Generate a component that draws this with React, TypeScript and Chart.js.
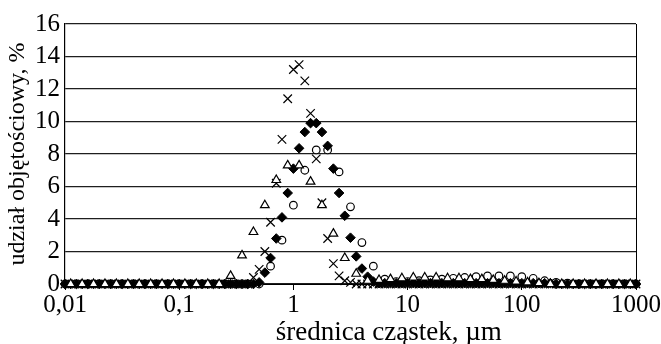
import React, { useEffect, useRef } from "react";
import { Chart, registerables } from "chart.js";

Chart.register(...registerables);

// 20 bins per decade (0.01 .. 1000 µm)
const mantissas = [1, 1.122, 1.259, 1.413, 1.585, 1.778, 1.995, 2.239, 2.512, 2.818, 3.162, 3.548, 3.981, 4.467, 5.012, 5.623, 6.31, 7.079, 7.943, 8.913];
const decades = [0.01, 0.1, 1, 10, 100];
const lastSize = 1000;

const xTickValues = [0.01, 0.1, 1, 10, 100, 1000];
const xTickLabels = ["0,01", "0,1", "1", "10", "100", "1000"];

// series on the fine grid (101 bins)
const crossValues = [
  0, 0, 0, 0, 0, 0, 0, 0, 0, 0, 0, 0, 0, 0, 0, 0, 0, 0, 0, 0,
  0, 0, 0, 0, 0, 0, 0, 0, 0, 0, 0, 0, 0, 0.4, 0.9, 2.0, 3.8, 6.2, 8.9, 11.4,
  13.2, 13.5, 12.5, 10.5, 7.7, 5.0, 2.8, 1.25, 0.5, 0.2, 0.1, 0, 0, 0, 0, 0, 0, 0, 0, 0,
  0, 0, 0, 0, 0, 0, 0, 0, 0, 0, 0, 0, 0, 0, 0, 0, 0, 0, 0, 0,
  0, 0, 0, 0, 0, 0, 0, 0, 0, 0, 0, 0, 0, 0, 0, 0, 0, 0, 0, 0,
  0,
];
const diamondValues = [
  0, 0, 0, 0, 0, 0, 0, 0, 0, 0, 0, 0, 0, 0, 0, 0, 0, 0, 0, 0,
  0, 0, 0, 0, 0, 0, 0, 0, 0, 0, 0, 0, 0, 0, 0.1, 0.7, 1.6, 2.8, 4.1, 5.6,
  7.1, 8.35, 9.35, 9.9, 9.9, 9.35, 8.5, 7.1, 5.6, 4.2, 2.85, 1.7, 0.95, 0.45, 0.15, 0.05, 0.05, 0.05, 0.05, 0.05,
  0.05, 0.05, 0.05, 0.05, 0.05, 0.05, 0.05, 0.05, 0.05, 0.05, 0.05, 0.05, 0.05, 0.05, 0.05, 0.05, 0.05, 0.05, 0.05, 0.05,
  0.05, 0.05, 0.05, 0.05, 0.05, 0.05, 0, 0, 0, 0, 0, 0, 0, 0, 0, 0, 0, 0, 0, 0,
  0,
];
// series on the even bins (51)
const circleValues = [
  0, 0, 0, 0, 0, 0, 0, 0, 0, 0, 0, 0, 0, 0, 0, 0, 0, 0,
  1.1, 2.7, 4.85, 7.0, 8.25, 8.25, 6.9, 4.75, 2.55, 1.1, 0.3, 0.15, 0.15, 0.2, 0.25,
  0.3, 0.35, 0.4, 0.45, 0.5, 0.5, 0.5, 0.45, 0.35, 0.2, 0.1, 0.05,
  0, 0, 0, 0, 0, 0,
];
// series on the odd bins (50)
const triangleValues = [
  0, 0, 0, 0, 0, 0, 0, 0, 0, 0, 0, 0, 0, 0,
  0.5, 1.76, 3.2, 4.85, 6.4, 7.3, 7.3, 6.3, 4.85, 3.1, 1.6, 0.63, 0.2, 0.25,
  0.3, 0.35, 0.4, 0.4, 0.4, 0.35, 0.35, 0.3, 0.3, 0.25, 0.2, 0.15, 0.1, 0.05,
  0, 0, 0, 0, 0, 0, 0, 0,
];

const yTitle = "udział objętościowy, %";
const xTitle = "średnica cząstek, µm";

const FONT = "'Liberation Serif', 'Times New Roman', serif";

export default function App() {
  const ref = useRef<HTMLCanvasElement | null>(null);

  useEffect(() => {
    document.body.style.margin = "0";
    const fineSizes = [...decades.flatMap((d) => mantissas.map((m) => d * m)), lastSize];
    const evenSizes = fineSizes.filter((_, i) => i % 2 === 0);
    const oddSizes = fineSizes.filter((_, i) => i % 2 === 1);
    const pts = (xs: number[], ys: number[]) => ys.map((y, i) => ({ x: xs[i], y }));

    const framePlugin = {
      id: "frameAndTitle",
      afterDraw(chart: any) {
        const { ctx, chartArea } = chart;
        ctx.save();
        ctx.strokeStyle = "#000";
        ctx.lineWidth = 1;
        ctx.beginPath();
        ctx.moveTo(Math.round(chartArea.right) + 0.5, chartArea.top);
        ctx.lineTo(Math.round(chartArea.right) + 0.5, chartArea.bottom);
        ctx.stroke();
        // x axis title, placed like the original (right of centre)
        ctx.fillStyle = "#000";
        ctx.font = `27px ${FONT}`;
        ctx.textAlign = "center";
        ctx.textBaseline = "alphabetic";
        ctx.fillText(xTitle, chartArea.left + (chartArea.right - chartArea.left) * 0.567, 340);
        ctx.restore();
      },
    };

    const common = { clip: false as any, borderColor: "#000" };

    const chart = new Chart(ref.current!, {
      type: "scatter",
      data: {
        datasets: [
          {
            ...common,
            label: "triangle",
            data: pts(oddSizes, triangleValues),
            pointStyle: "triangle",
            pointRadius: 5,
            backgroundColor: "#fff",
            pointBorderWidth: 1.2,
          },
          {
            ...common,
            label: "diamond",
            data: pts(fineSizes, diamondValues),
            pointStyle: "rectRot",
            pointRadius: 4.8,
            backgroundColor: "#000",
            pointBorderWidth: 1,
          },
          {
            ...common,
            label: "circle",
            data: pts(evenSizes, circleValues),
            pointStyle: "circle",
            pointRadius: 3.8,
            backgroundColor: "#fff",
            pointBorderWidth: 1.2,
          },
          {
            ...common,
            label: "x",
            data: pts(fineSizes, crossValues),
            pointStyle: "crossRot",
            pointRadius: 6,
            backgroundColor: "#000",
            pointBorderWidth: 1.2,
          },
        ],
      },
      options: {
        animation: false,
        responsive: false,
        events: [],
        layout: { padding: { top: 24, right: 22, left: 0, bottom: 0 } },
        plugins: { legend: { display: false }, tooltip: { enabled: false } },
        scales: {
          x: {
            type: "logarithmic",
            min: 0.01,
            max: 1000,
            afterBuildTicks: (scale: any) => {
              scale.ticks = xTickValues.map((v) => ({ value: v }));
            },
            afterFit: (scale: any) => {
              scale.height = 60;
            },
            ticks: {
              autoSkip: false,
              maxRotation: 0,
              color: "#000",
              font: { family: FONT, size: 25 },
              padding: 0,
              callback: (v: any) => {
                const i = xTickValues.indexOf(Number(v));
                return i >= 0 ? xTickLabels[i] : "";
              },
            },
            grid: { drawOnChartArea: false, drawTicks: true, tickLength: 6, color: "#000" },
            border: { color: "#000", width: 1 },
            title: { display: false },
          },
          y: {
            min: 0,
            max: 16,
            afterFit: (scale: any) => {
              scale.width = 65;
            },
            ticks: {
              stepSize: 2,
              autoSkip: false,
              color: "#000",
              font: { family: FONT, size: 25 },
              padding: 5,
            },
            grid: { color: "#1e1e1e", lineWidth: 1.2, drawTicks: false },
            border: { color: "#000", width: 1.2 },
            title: {
              display: true,
              text: yTitle,
              color: "#000",
              font: { family: FONT, size: 24 },
              padding: { top: 3, bottom: 0 },
            },
          },
        },
      },
      plugins: [framePlugin],
    });
    return () => chart.destroy();
  }, []);

  return (
    <div style={{ width: 661, height: 344 }}>
      <canvas ref={ref} width={661} height={344} />
    </div>
  );
}
